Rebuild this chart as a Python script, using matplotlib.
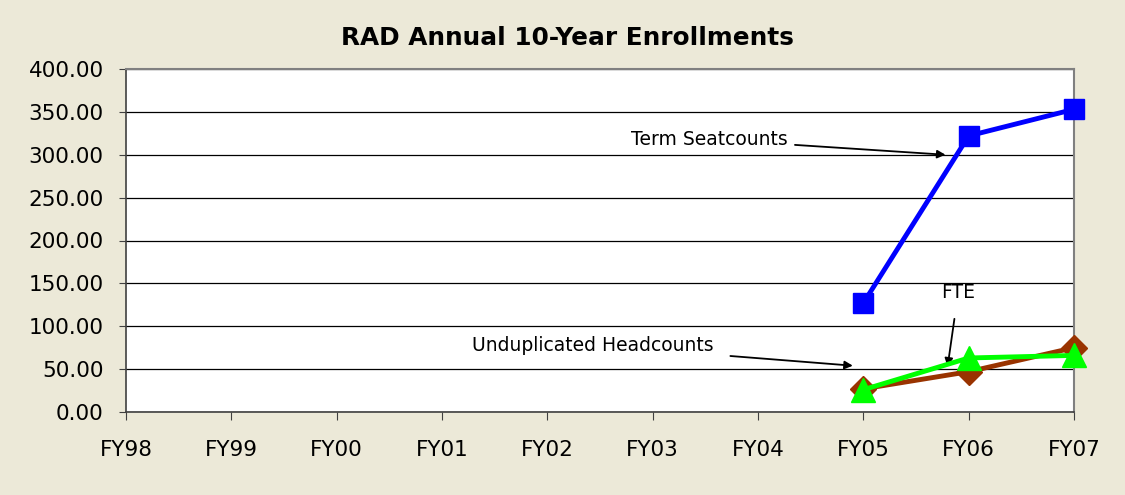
import matplotlib
matplotlib.use("Agg")
import matplotlib.pyplot as plt
import numpy as np

categories = ["FY98", "FY99", "FY00", "FY01", "FY02", "FY03", "FY04", "FY05", "FY06", "FY07"]
term_seatcounts = [None, None, None, None, None, None, None, 127, 322, 353]
unduplicated_headcounts = [None, None, None, None, None, None, None, 27, 47, 75]
fte = [None, None, None, None, None, None, None, 26, 63, 66]
yticks = [0, 50, 100, 150, 200, 250, 300, 350, 400]

def arr(v):
    return np.array([np.nan if x is None else x for x in v], dtype=float)

plt.rcParams['font.family'] = ['DejaVu Sans']

fig = plt.figure(figsize=(11.25, 4.95), dpi=100, facecolor='#ECE9D8')
ax = fig.add_axes([126/1125, 1 - 412/495, (1074-126)/1125, (412-69)/495])
ax.set_facecolor('white')

x = np.arange(len(categories))
ax.plot(x, arr(term_seatcounts), color='#0000FF', lw=3.5, marker='s', ms=15, zorder=4, clip_on=False)
ax.plot(x, arr(unduplicated_headcounts), color='#993300', lw=3.5, marker='D', ms=13, zorder=4, clip_on=False)
ax.plot(x, arr(fte), color='#00FF00', lw=3.5, marker='^', ms=17, zorder=5, clip_on=False)

ax.set_xlim(0, len(categories) - 1)
ax.set_ylim(0, 400)
ax.set_yticks(yticks)
ax.set_yticklabels([f"{v:.2f}" for v in yticks], fontsize=15.5)
ax.set_xticks(x)
ax.set_xticklabels(categories, fontsize=15.5)
ax.tick_params(axis='x', direction='out', length=6, pad=14, color='#404040')
ax.tick_params(axis='y', direction='out', length=5, pad=11, color='#404040')
ax.yaxis.grid(True, color='black', lw=0.9)
ax.set_axisbelow(True)
for s in ['top', 'right']:
    ax.spines[s].set_color('#808080')
    ax.spines[s].set_linewidth(1.5)
for s in ['left', 'bottom']:
    ax.spines[s].set_color('#404040')
    ax.spines[s].set_linewidth(1.2)

fig.text(567/1125, 1 - 38/495, "RAD Annual 10-Year Enrollments", ha='center', va='center',
         fontsize=17.8, fontweight='bold')

ap = dict(arrowstyle='-|>', color='black', lw=1.3, mutation_scale=12)
ax.annotate("Term Seatcounts", xy=(7.78, 300), xytext=(6.285, 318), fontsize=13.5,
            ha='right', va='center', arrowprops=dict(ap, shrinkA=3, shrinkB=0))
ax.annotate("Unduplicated Headcounts", xy=(6.90, 54), xytext=(5.58, 78), fontsize=13.5,
            ha='right', va='center', arrowprops=dict(ap, shrinkA=10, shrinkB=0))
ax.annotate("FTE", xy=(7.80, 53), xytext=(7.90, 139), fontsize=13.5,
            ha='center', va='center', arrowprops=dict(ap, shrinkA=10, shrinkB=0))

fig.savefig("out.png", dpi=100, facecolor=fig.get_facecolor())
